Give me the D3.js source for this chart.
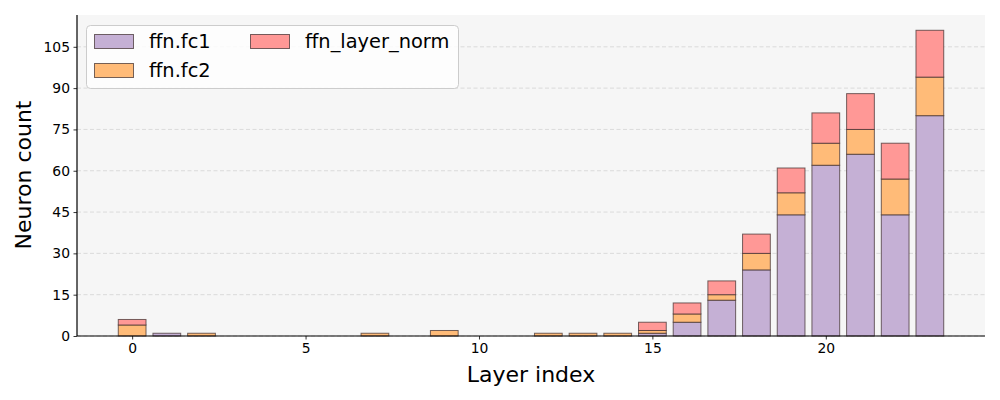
<!DOCTYPE html>
<html><head><meta charset="utf-8">
<script src="https://cdn.jsdelivr.net/npm/d3@7"></script>
<style>body{margin:0;background:#fff}svg{display:block;font-family:"DejaVu Sans",sans-serif}</style>
</head><body><svg id="c" width="1000" height="400"></svg>
<script>
const layers = d3.range(24);
const fc1 = [0,1,0,0,0,0,0,0,0,0,0,0,0,0,0,1,5,13,24,44,62,66,44,80];
const fc2 = [4,0,1,0,0,0,0,1,0,2,0,0,1,1,1,1,3,2,6,8,8,9,13,14];
const lnorm = [2,0,0,0,0,0,0,0,0,0,0,0,0,0,0,3,4,5,7,9,11,13,13,17];
const seriesNames = ["ffn.fc1","ffn.fc2","ffn_layer_norm"];
const colors = ["#c5b0d5","#ffbb78","#ff9896"];
const yTicks = [0,15,30,45,60,75,90,105];
const xTicks = [0,5,10,15,20];

const svg = d3.select("#c");
const L=77,R=985,T=15,B=336;
const x = d3.scaleLinear().domain([-1.59,24.59]).range([L,R]);
const y = d3.scaleLinear().domain([0,116.55]).range([B,T]);

svg.append("rect").attr("x",L).attr("y",T).attr("width",R-L).attr("height",B-T).attr("fill","#f6f6f6");

// grid
svg.append("g").selectAll("line").data(yTicks).join("line")
  .attr("x1",L).attr("x2",R).attr("y1",d=>y(d)).attr("y2",d=>y(d))
  .attr("stroke","#d3d3d3").attr("stroke-width",0.8).attr("stroke-dasharray","4,2.5");

const table = layers.map((l,i)=>({layer:l, "ffn.fc1":fc1[i], "ffn.fc2":fc2[i], "ffn_layer_norm":lnorm[i]}));
const stack = d3.stack().keys(seriesNames)(table);
const bw = x(0.8)-x(0);
stack.forEach((s,si)=>{
  svg.append("g").selectAll("rect").data(s.filter(d=>d[1]-d[0]>0)).join("rect")
    .attr("x",d=>x(d.data.layer-0.4)).attr("width",bw)
    .attr("y",d=>y(d[1])).attr("height",d=>y(d[0])-y(d[1]))
    .attr("fill",colors[si]).attr("stroke","#3a2a2a").attr("stroke-opacity",0.7).attr("stroke-width",1);
});

// axes
const xa = svg.append("g").attr("transform",`translate(0,${B})`)
  .call(d3.axisBottom(x).tickValues(xTicks).tickSize(3.5).tickPadding(3.5).tickFormat(d3.format("d")));
const ya = svg.append("g").attr("transform",`translate(${L},0)`)
  .call(d3.axisLeft(y).tickValues(yTicks).tickSize(3.5).tickPadding(3.5));
[xa,ya].forEach(a=>{
  a.selectAll("text").attr("font-size",13.9).attr("fill","#000").attr("font-family","DejaVu Sans");
  a.selectAll("line").attr("stroke","#000").attr("stroke-width",0.8);
  a.select(".domain").remove();
});
svg.append("line").attr("x1",L).attr("x2",R).attr("y1",B).attr("y2",B).attr("stroke","#000").attr("stroke-width",1.2);
svg.append("line").attr("x1",L).attr("x2",L).attr("y1",T).attr("y2",B).attr("stroke","#000").attr("stroke-width",1.2);

svg.append("text").attr("x",(L+R)/2).attr("y",382).attr("text-anchor","middle").attr("font-size",22).text("Layer index");
svg.append("text").attr("transform","translate(31,175) rotate(-90)").attr("text-anchor","middle").attr("font-size",22).text("Neuron count");

// legend
const lg = svg.append("g");
lg.append("rect").attr("x",86.5).attr("y",25.5).attr("width",372).attr("height",63).attr("rx",4)
  .attr("fill","#fff").attr("fill-opacity",0.8).attr("stroke","#cccccc").attr("stroke-width",1);
const pos = [[94,34],[94,63],[250,34]];
seriesNames.forEach((n,i)=>{
  const [px,py]=pos[i];
  lg.append("rect").attr("x",px+0.5).attr("y",py+0.5).attr("width",39).attr("height",14)
    .attr("fill",colors[i]).attr("stroke","#3a2a2a").attr("stroke-opacity",0.7).attr("stroke-width",1);
  lg.append("text").attr("x",px+55).attr("y",py+13.5).attr("font-size",19.4).text(n);
});
</script></body></html>
